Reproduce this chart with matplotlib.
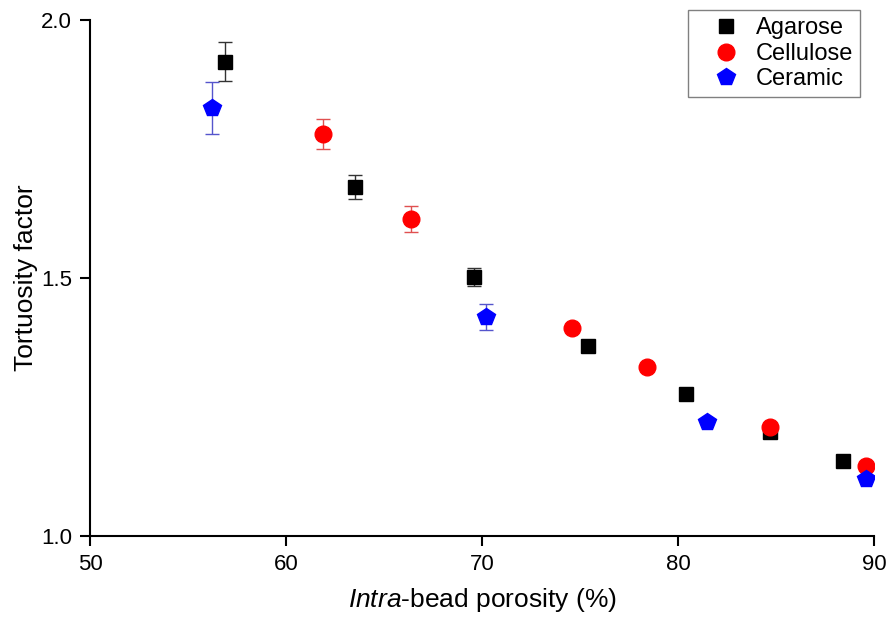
import matplotlib
matplotlib.use('Agg')
import matplotlib.pyplot as plt
from matplotlib.lines import Line2D

plt.rcParams['font.family'] = ['Liberation Sans', 'DejaVu Sans']
plt.rcParams['mathtext.fontset'] = 'custom'
plt.rcParams['mathtext.it'] = 'Liberation Sans:italic'
plt.rcParams['mathtext.rm'] = 'Liberation Sans'

# Agarose
agarose_x = [56.9, 63.5, 69.6, 75.4, 80.4, 84.7, 88.4]
agarose_y = [1.919, 1.676, 1.502, 1.368, 1.275, 1.201, 1.145]
agarose_err = [0.038, 0.023, 0.017, 0, 0, 0, 0]

# Cellulose
cellulose_x = [61.9, 66.4, 74.6, 78.4, 84.7, 89.6]
cellulose_y = [1.779, 1.614, 1.403, 1.327, 1.211, 1.135]
cellulose_err = [0.029, 0.025, 0, 0, 0, 0]

# Ceramic
ceramic_x = [56.2, 70.2, 81.5, 89.6]
ceramic_y = [1.829, 1.424, 1.220, 1.110]
ceramic_err = [0.050, 0.025, 0, 0]

fig = plt.figure(figsize=(8.89, 6.22), dpi=100)
ax = fig.add_axes([0.1012, 0.1388, 0.882, 0.829])

ax.errorbar(agarose_x, agarose_y, yerr=agarose_err, fmt='s', color='black',
            ms=10, ecolor='#333333', elinewidth=1, capsize=5)
ax.errorbar(cellulose_x, cellulose_y, yerr=cellulose_err, fmt='o', color='#ff0000',
            ms=12, ecolor='#e05050', elinewidth=1, capsize=5)
ax.errorbar(ceramic_x, ceramic_y, yerr=ceramic_err, fmt='p', color='#0000ff',
            ms=13, ecolor='#5555cc', elinewidth=1, capsize=5)

ax.set_xlim(50, 90)
ax.set_ylim(1.0, 2.0)
ax.set_xticks([50, 60, 70, 80, 90])
ax.set_yticks([1.0, 1.5, 2.0])
ax.set_yticklabels(['1.0', '1.5', '2.0'])
ax.spines['top'].set_visible(False)
ax.spines['right'].set_visible(False)
ax.spines['left'].set_linewidth(1.5)
ax.spines['bottom'].set_linewidth(1.5)
ax.tick_params(direction='out', length=7, width=1.5, labelsize=16, pad=6)

ax.set_xlabel(r'$\mathit{Intra}$-bead porosity (%)', fontsize=19, labelpad=8)
ax.set_ylabel('Tortuosity factor', fontsize=19, labelpad=2)

handles = [
    Line2D([], [], marker='s', color='black', ls='none', ms=10),
    Line2D([], [], marker='o', color='#ff0000', ls='none', ms=12),
    Line2D([], [], marker='p', color='#0000ff', ls='none', ms=13),
]
leg = ax.legend(handles, ['Agarose', 'Cellulose', 'Ceramic'], loc='upper right',
                bbox_to_anchor=(0.982, 1.019), borderaxespad=0, fontsize=17,
                fancybox=False, edgecolor='#808080', framealpha=1,
                handletextpad=-0.05, borderpad=0.3, labelspacing=0.15,
                handlelength=2.6)
leg.get_frame().set_linewidth(1)

fig.savefig('out.png', dpi=100)
